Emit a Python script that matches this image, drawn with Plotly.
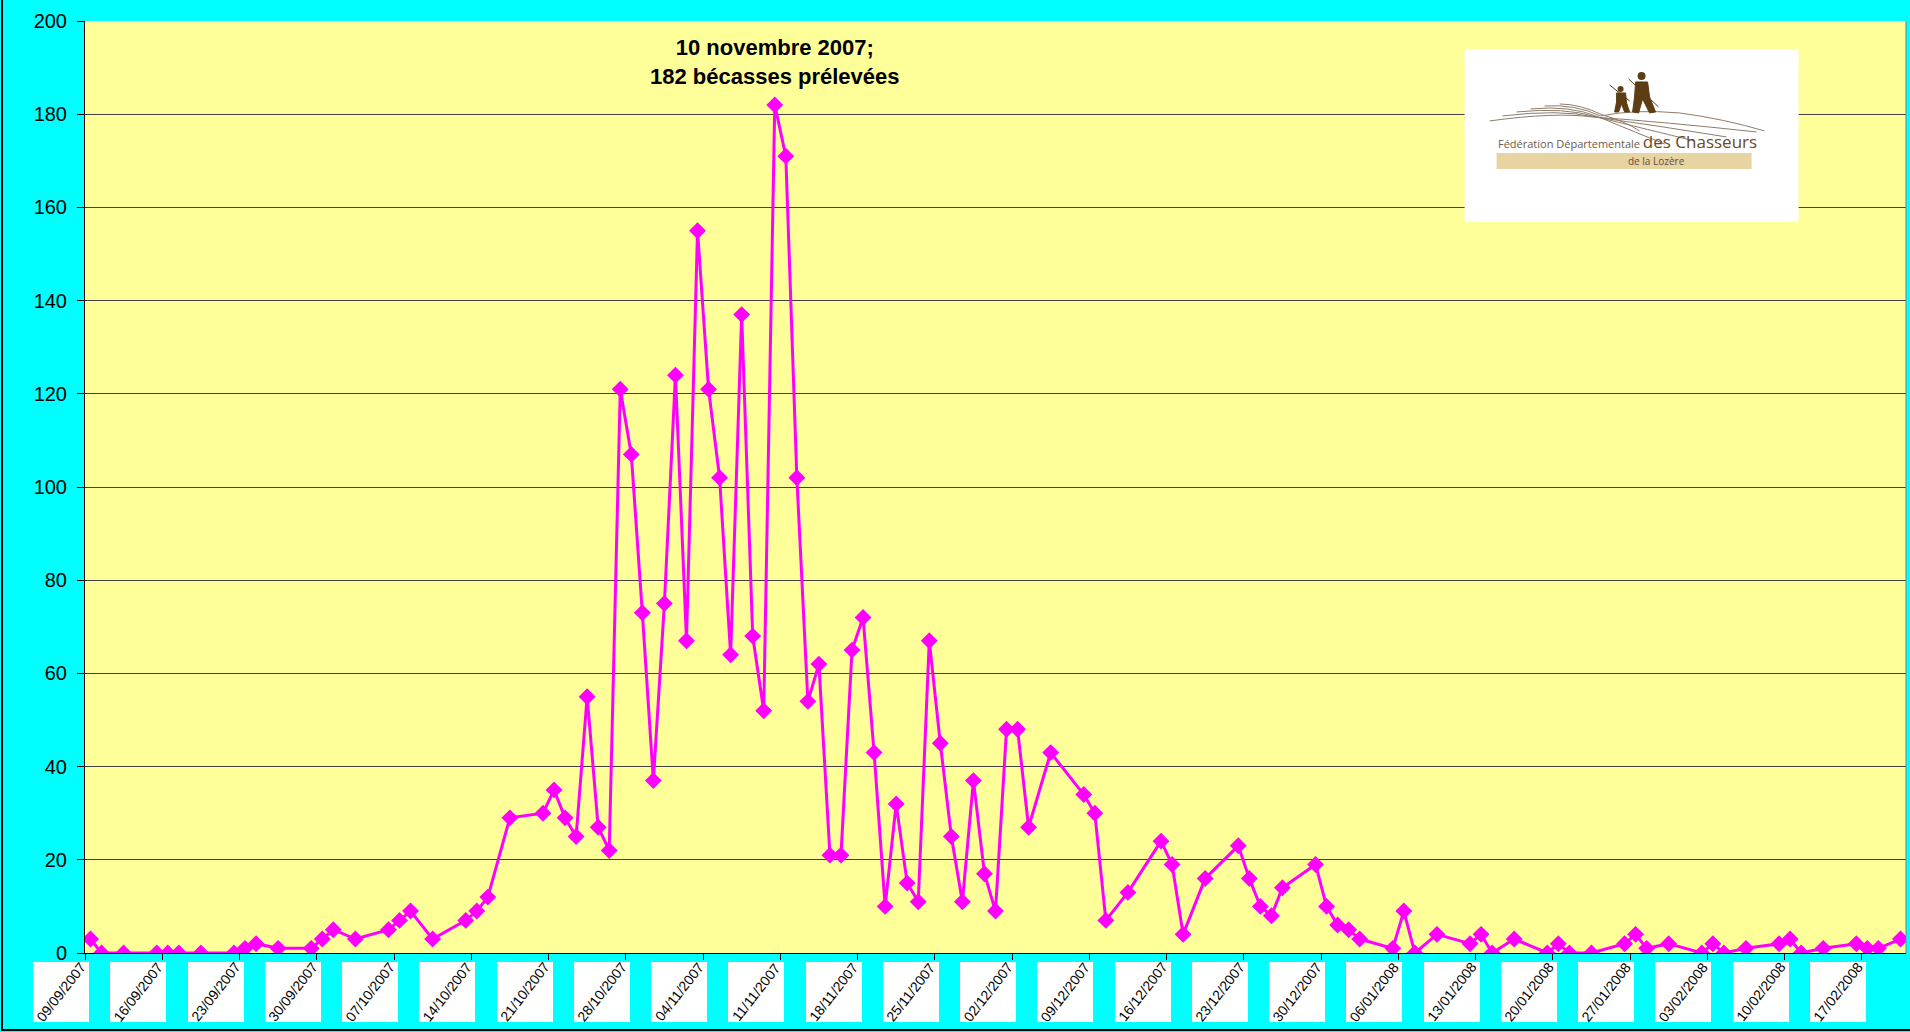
import pandas as pd
import plotly.graph_objects as go

# ---------------- data ----------------
dates = [
    "2007-09-09", "2007-09-10", "2007-09-12", "2007-09-15", "2007-09-16", "2007-09-17",
    "2007-09-19", "2007-09-22", "2007-09-23", "2007-09-24", "2007-09-26", "2007-09-29",
    "2007-09-30", "2007-10-01", "2007-10-03", "2007-10-06", "2007-10-07", "2007-10-08",
    "2007-10-10", "2007-10-13", "2007-10-14", "2007-10-15", "2007-10-17", "2007-10-20",
    "2007-10-21", "2007-10-22", "2007-10-23", "2007-10-24", "2007-10-25", "2007-10-26",
    "2007-10-27", "2007-10-28", "2007-10-29", "2007-10-30", "2007-10-31", "2007-11-01",
    "2007-11-02", "2007-11-03", "2007-11-04", "2007-11-05", "2007-11-06", "2007-11-07",
    "2007-11-08", "2007-11-09", "2007-11-10", "2007-11-11", "2007-11-12", "2007-11-13",
    "2007-11-14", "2007-11-15", "2007-11-16", "2007-11-17", "2007-11-18", "2007-11-19",
    "2007-11-20", "2007-11-21", "2007-11-22", "2007-11-23", "2007-11-24", "2007-11-25",
    "2007-11-26", "2007-11-27", "2007-11-28", "2007-11-29", "2007-11-30", "2007-12-01",
    "2007-12-02", "2007-12-03", "2007-12-05", "2007-12-08", "2007-12-09", "2007-12-10",
    "2007-12-12", "2007-12-15", "2007-12-16", "2007-12-17", "2007-12-19", "2007-12-22",
    "2007-12-23", "2007-12-24", "2007-12-25", "2007-12-26", "2007-12-29", "2007-12-30",
    "2007-12-31", "2008-01-01", "2008-01-02", "2008-01-05", "2008-01-06", "2008-01-07",
    "2008-01-09", "2008-01-12", "2008-01-13", "2008-01-14", "2008-01-16", "2008-01-19",
    "2008-01-20", "2008-01-21", "2008-01-23", "2008-01-26", "2008-01-27", "2008-01-28",
    "2008-01-30", "2008-02-02", "2008-02-03", "2008-02-04", "2008-02-06", "2008-02-09",
    "2008-02-10", "2008-02-11", "2008-02-13", "2008-02-16", "2008-02-17", "2008-02-18",
    "2008-02-20",
]
values = [
    3, 0, 0, 0, 0, 0,
    0, 0, 1, 2, 1, 1,
    3, 5, 3, 5, 7, 9,
    3, 7, 9, 12, 29, 30,
    35, 29, 25, 55, 27, 22,
    121, 107, 73, 37, 75, 124,
    67, 155, 121, 102, 64, 137,
    68, 52, 182, 171, 102, 54,
    62, 21, 21, 65, 72, 43,
    10, 32, 15, 11, 67, 45,
    25, 11, 37, 17, 9, 48,
    48, 27, 43, 34, 30, 7,
    13, 24, 19, 4, 16, 23,
    16, 10, 8, 14, 19, 10,
    6, 5, 3, 1, 9, 0,
    4, 2, 4, 0, 3, 0,
    2, 0, 0, 2, 4, 1,
    2, 0, 2, 0, 1, 2,
    3, 0, 1, 2, 1, 1,
    3,
]
tick_dates = [
    "2007-09-09", "2007-09-16", "2007-09-23", "2007-09-30", "2007-10-07", "2007-10-14",
    "2007-10-21", "2007-10-28", "2007-11-04", "2007-11-11", "2007-11-18", "2007-11-25",
    "2007-12-02", "2007-12-09", "2007-12-16", "2007-12-23", "2007-12-30", "2008-01-06",
    "2008-01-13", "2008-01-20", "2008-01-27", "2008-02-03", "2008-02-10", "2008-02-17",
]
tick_labels = [
    "09/09/2007", "16/09/2007", "23/09/2007", "30/09/2007", "07/10/2007", "14/10/2007",
    "21/10/2007", "28/10/2007", "04/11/2007", "11/11/2007", "18/11/2007", "25/11/2007",
    "02/12/2007", "09/12/2007", "16/12/2007", "23/12/2007", "30/12/2007", "06/01/2008",
    "13/01/2008", "20/01/2008", "27/01/2008", "03/02/2008", "10/02/2008", "17/02/2008",
]
y_ticks = [0, 20, 40, 60, 80, 100, 120, 140, 160, 180, 200]
peak_text = "10 novembre 2007;<br>182 bécasses prélevées"
x_start, x_end = "2007-09-09", "2008-02-21"

FONT = "Arial, 'Liberation Sans', sans-serif"
MAGENTA = "#FF00FF"

fig = go.Figure()
fig.add_trace(go.Scatter(
    x=dates, y=values,
    xperiod=86400000, xperiod0=x_start, xperiodalignment="middle",
    mode="lines+markers",
    line=dict(color=MAGENTA, width=3),
    marker=dict(symbol="diamond", size=13, color=MAGENTA, line=dict(width=0)),
    showlegend=False, hoverinfo="x+y",
))

annotations = []
# peak annotation
s = pd.Series(values, index=pd.to_datetime(dates))
peak_date = s.idxmax() + pd.Timedelta(hours=12)
annotations.append(dict(
    x=peak_date, y=s.max() + 9.3, xref="x", yref="y",
    text="<b>" + peak_text + "</b>", showarrow=False,
    xanchor="center", yanchor="middle", align="center",
    font=dict(family=FONT, size=22, color="black"),
))

# x tick labels in white boxes
for td, lab in zip(tick_dates, tick_labels):
    annotations.append(dict(
        x=td, y=0, xref="x", yref="paper", xanchor="right", yanchor="top",
        xshift=4, yshift=-9, text=" ", width=56, height=60,
        bgcolor="white", borderpad=0, borderwidth=0, showarrow=False,
    ))
    annotations.append(dict(
        x=td, y=0, xref="x", yref="paper", xanchor="center", yanchor="middle",
        xshift=-24, yshift=-39, text=lab, textangle=-52,
        font=dict(family=FONT, size=14, color="black"), showarrow=False,
    ))

# ---------------- logo (decorative) ----------------
LX, LY = 0.7576, 0.970   # top-left anchor of logo box (paper)
logo_common = dict(xref="paper", yref="paper", xsizemode="pixel", ysizemode="pixel",
                   xanchor=LX, yanchor=LY)
shapes = []
shapes.append(dict(type="rect", x0=0, x1=334, y0=0, y1=-173,
                   fillcolor="white", line=dict(width=0), layer="above", **logo_common))
stripes = [
    "M 25,-72 Q 90,-63 128,-68 Q 200,-73 292,-83",
    "M 38,-67 Q 95,-60 130,-68 Q 195,-77 262,-88",
    "M 52,-63 Q 100,-58 132,-68 Q 185,-81 230,-92",
    "M 66,-60 Q 105,-56 134,-68 Q 175,-85 200,-95",
    "M 80,-57 Q 110,-55 136,-67 Q 170,-60 215,-64 Q 260,-70 300,-82",
    "M 95,-55 Q 115,-55 138,-66 Q 160,-72 175,-82",
]
for p in stripes:
    shapes.append(dict(type="path", path=p, line=dict(color="#8c7c6c", width=1),
                       layer="above", **logo_common))
brown = "#5C3D14"
hunters = [
    "M 171,-33 L 183,-33 L 185,-48 L 191,-63 L 185,-64 L 178,-50 L 174,-64 L 168,-63 L 170,-48 Z",
    "M 152,-44 L 161,-44 L 162,-54 L 165,-63 L 160,-63 L 157,-55 L 154,-63 L 150,-63 L 152,-53 Z",
]
for p in hunters:
    shapes.append(dict(type="path", path=p, fillcolor=brown, line=dict(color=brown, width=1),
                       layer="above", **logo_common))
shapes.append(dict(type="circle", x0=173, x1=181, y0=-23, y1=-31, fillcolor=brown,
                   line=dict(width=0), layer="above", **logo_common))
shapes.append(dict(type="circle", x0=153, x1=159, y0=-37, y1=-43, fillcolor=brown,
                   line=dict(width=0), layer="above", **logo_common))
shapes.append(dict(type="line", x0=164, x1=194, y0=-30, y1=-58, line=dict(color=brown, width=1),
                   layer="above", **logo_common))
shapes.append(dict(type="line", x0=145, x1=165, y0=-36, y1=-52, line=dict(color=brown, width=1),
                   layer="above", **logo_common))
shapes.append(dict(type="rect", x0=32, x1=287, y0=-104, y1=-120,
                   fillcolor="#E8D3A2", line=dict(width=0), layer="above", **logo_common))

annotations.append(dict(
    x=LX, y=LY, xref="paper", yref="paper", xanchor="left", yanchor="middle",
    xshift=31, yshift=-93, showarrow=False,
    text="<span style='color:#6b5b4b'>Fédération Départementale</span> "
         "<span style='font-size:17px;color:#6a4a24'>des Chasseurs</span>",
    font=dict(family="'Open Sans', 'Noto Sans', sans-serif", size=11, color="#6b5b4b"),
))
annotations.append(dict(
    x=LX, y=LY, xref="paper", yref="paper", xanchor="center", yanchor="middle",
    xshift=192, yshift=-112, showarrow=False, text="de la Lozère",
    font=dict(family="'Open Sans', 'Noto Sans', sans-serif", size=10, color="#5e4e3e"),
))

# plot area right edge + outer chart border
shapes.append(dict(type="line", xref="paper", yref="paper", x0=1, x1=1, y0=0, y1=1,
                   line=dict(color="#808080", width=1)))
shapes.append(dict(type="rect", xref="paper", yref="paper", xsizemode="pixel", ysizemode="pixel",
                   xanchor=0, yanchor=0, x0=-83, x1=1860, y0=-77, y1=980,
                   line=dict(color="black", width=2), layer="below"))

fig.update_layout(
    width=1910, height=1032,
    margin=dict(l=85, r=4, t=21, b=79, pad=0),
    paper_bgcolor="#00FFFF", plot_bgcolor="#FFFF99",
    font=dict(family=FONT, color="black"),
    annotations=annotations, shapes=shapes,
    xaxis=dict(
        type="date", range=[x_start, x_end], tickvals=tick_dates,
        showticklabels=False, ticks="outside", ticklen=6, tickcolor="black", tickwidth=1,
        showline=True, linecolor="black", linewidth=1, showgrid=False, zeroline=False,
    ),
    yaxis=dict(
        range=[0, 200], tickvals=y_ticks, ticks="outside", ticklen=7,
        tickcolor="black", tickwidth=1, ticklabelstandoff=6,
        tickfont=dict(family=FONT, size=20, color="black"),
        showline=True, linecolor="black", linewidth=1,
        showgrid=True, gridcolor="#404040", gridwidth=1, zeroline=False,
    ),
)

fig.write_html(
    "out.html",
    config={"displayModeBar": False},
    post_script="document.body.style.margin='0';document.body.style.overflow='hidden';",
)
